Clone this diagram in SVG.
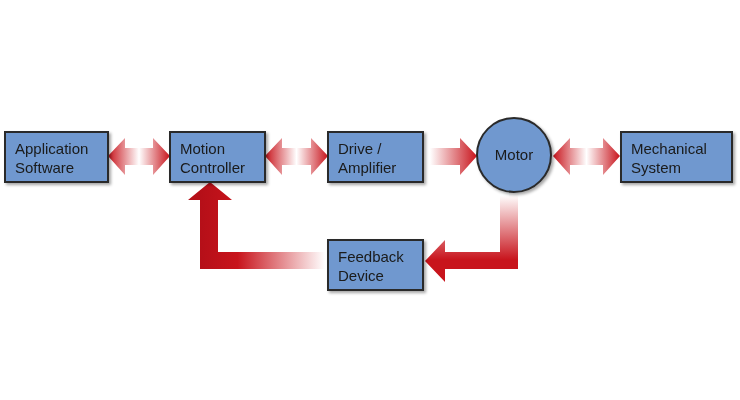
<svg xmlns="http://www.w3.org/2000/svg" width="740" height="400" viewBox="0 0 740 400">
<style>
.n{fill:#6f98cf;stroke:#2b2b2b;stroke-width:2}
.t{font-family:"Liberation Sans",Arial,sans-serif;font-size:15px;fill:#1a1a1a}
</style>
<defs>
<linearGradient id="dbl" x1="0" x2="1" y1="0" y2="0"><stop offset="0" stop-color="#c8141c"/><stop offset="0.5" stop-color="#fff"/><stop offset="1" stop-color="#c8141c"/></linearGradient>
<linearGradient id="lr" x1="0" x2="1"><stop offset="0" stop-color="#fff"/><stop offset="1" stop-color="#c8141c"/></linearGradient>
<linearGradient id="rl" gradientUnits="userSpaceOnUse" x1="325" y1="0" x2="200" y2="0"><stop offset="0" stop-color="#fff"/><stop offset="0.7" stop-color="#c8141c"/><stop offset="1" stop-color="#b50f18"/></linearGradient>
<linearGradient id="tb" gradientUnits="userSpaceOnUse" x1="0" y1="195" x2="0" y2="260"><stop offset="0" stop-color="#fff"/><stop offset="1" stop-color="#c8141c"/></linearGradient>
<filter id="sh" x="-10%" y="-10%" width="130%" height="130%"><feDropShadow dx="2" dy="2" stdDeviation="1.5" flood-color="#000" flood-opacity="0.35"/></filter>
</defs>
<g id="connectors">
<path d="M108,156 L125,138 L125,148 L153,148 L153,138 L170,156 L153,175 L153,165 L125,165 L125,175 Z" fill="url(#dbl)"/>
<path d="M265,156 L282,138 L282,148 L311,148 L311,138 L328,156 L311,175 L311,165 L282,165 L282,175 Z" fill="url(#dbl)"/>
<path d="M430,148 L460,148 L460,138 L477,156 L460,175 L460,165 L430,165 Z" fill="url(#lr)"/>
<path d="M553,156 L570,138 L570,148 L603,148 L603,138 L620,156 L603,175 L603,165 L570,165 L570,175 Z" fill="url(#dbl)"/>
<path d="M500,195 L518,195 L518,269 L445,269 L445,282 L425,261 L445,240 L445,252 L500,252 Z" fill="url(#tb)"/>
<path d="M325,252 L218,252 L218,200 L232,200 L210,182 L188,200 L200,200 L200,269 L325,269 Z" fill="url(#rl)"/>
</g>
<g id="app" filter="url(#sh)"><rect class="n" x="5" y="132" width="103" height="50"/><text class="t" x="15" y="154">Application</text><text class="t" x="15" y="173">Software</text></g>
<g id="mc" filter="url(#sh)"><rect class="n" x="170" y="132" width="95" height="50"/><text class="t" x="180" y="154">Motion</text><text class="t" x="180" y="173">Controller</text></g>
<g id="drive" filter="url(#sh)"><rect class="n" x="328" y="132" width="95" height="50"/><text class="t" x="338" y="154">Drive /</text><text class="t" x="338" y="173">Amplifier</text></g>
<g id="motor" filter="url(#sh)"><circle class="n" cx="514" cy="155" r="37"/><text class="t" x="514" y="160" text-anchor="middle">Motor</text></g>
<g id="mech" filter="url(#sh)"><rect class="n" x="621" y="132" width="111" height="50"/><text class="t" x="631" y="154">Mechanical</text><text class="t" x="631" y="173">System</text></g>
<g id="fb" filter="url(#sh)"><rect class="n" x="328" y="240" width="95" height="50"/><text class="t" x="338" y="262">Feedback</text><text class="t" x="338" y="281">Device</text></g>
</svg>
